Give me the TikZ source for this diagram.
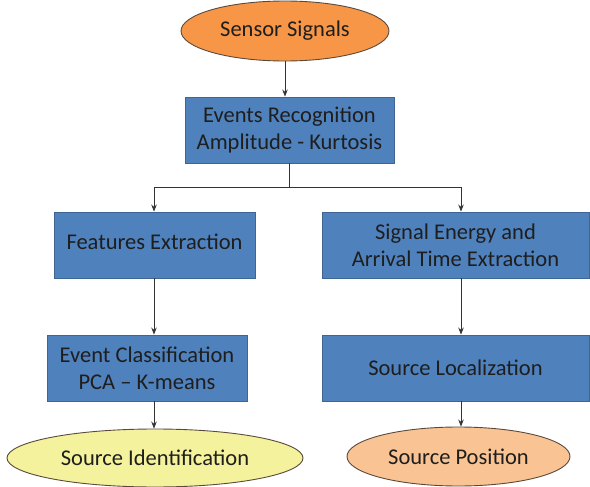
\documentclass[tikz,border=0pt]{standalone}
\usepackage{fontspec}
\setmainfont{Carlito}
\usetikzlibrary{shapes.geometric, arrows.meta, positioning}

\definecolor{boxblue}{HTML}{4F81BD}
\definecolor{boxedge}{HTML}{3F6592}
\definecolor{sensororange}{HTML}{F79646}
\definecolor{idyellow}{HTML}{F4F29C}
\definecolor{pospeach}{HTML}{FAC393}
\definecolor{ovaledge}{HTML}{5A4A3C}
\definecolor{txt}{HTML}{1E1E1E}

\tikzset{
  stepbox/.style={rectangle, draw=boxedge, fill=boxblue, line width=0.9pt,
    inner sep=0pt, minimum height=66pt, align=center, text=txt,
    font=\fontsize{22.5}{27}\selectfont},
  oval/.style={ellipse, draw=ovaledge, line width=0.9pt, inner sep=0pt,
    minimum height=60pt, text=txt, font=\fontsize{22.5}{27}\selectfont},
  flow/.style={draw=black!80, line width=0.9pt, -{Stealth[length=7pt,width=5.5pt]}}
}

\begin{document}
\begin{tikzpicture}[x=1pt, y=1pt]
   \useasboundingbox (0,0) rectangle (590,-487);

   \node[oval, fill=sensororange, minimum width=208pt] (sensor) at (285,-31) {Sensor Signals};
   \node[stepbox, minimum width=209pt] (events) at (289.5,-130) {Events Recognition\\Amplitude - Kurtosis};
   \node[stepbox, minimum width=201pt] (features) at (154.5,-245) {\raisebox{7pt}{Features Extraction}};
   \node[stepbox, minimum width=267pt] (energy) at (455.5,-245) {Signal Energy and\\Arrival Time Extraction};
   \node[stepbox, minimum width=200pt] (classify) at (147,-368) {Event Classification\\PCA -- K-means};
   \node[stepbox, minimum width=267pt] (localize) at (455.5,-368) {Source Localization};
   \node[oval, fill=idyellow, minimum width=296pt, minimum height=58pt] (ident) at (155,-458) {Source Identification};
   \node[oval, fill=pospeach, minimum width=223pt, minimum height=59pt] (position) at (458.5,-456.5) {Source Position};

   \coordinate (split) at (289.5,-187);
   \coordinate (rightcol) at (461,0);
   \coordinate (leftcol) at (154,0);

   % top of the chart
   \draw[flow] (sensor.south) -- (sensor.south |- events.north);
   \draw[draw=black!80, line width=0.9pt] (events.south) -- (split);
   \draw[flow] (split) -| (leftcol |- features.north);
   \draw[flow] (split) -| (rightcol |- energy.north);
   % left column
   \draw[flow] (leftcol |- features.south) -- (leftcol |- classify.north);
   \draw[flow] (leftcol |- classify.south) -- (leftcol |- ident.north);
   % right column
   \draw[flow] (rightcol |- energy.south) -- (rightcol |- localize.north);
   \draw[flow] (rightcol |- localize.south) -- (rightcol |- position.north);
\end{tikzpicture}
\end{document}
